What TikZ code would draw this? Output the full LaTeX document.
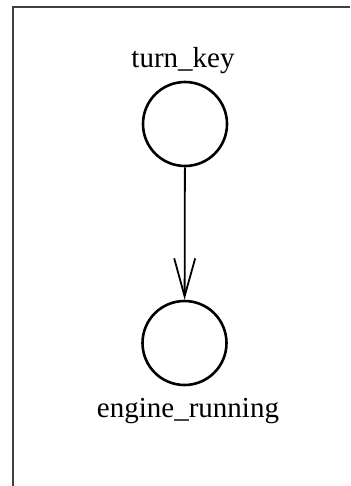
\documentclass[tikz,border=0pt]{standalone}
\usepackage{fontspec}
\setmainfont{Liberation Serif}
\usetikzlibrary{arrows.meta}
\begin{document}
\begin{tikzpicture}[x=1pt,y=-1pt,
  state/.style={circle,draw,line width=2.6pt,minimum size=84pt,inner sep=0pt},
  lbl/.style={font=\fontsize{29}{34}\selectfont,inner sep=0pt,anchor=base},
  frameline/.style={line width=2pt,draw=black!75},
  trans/.style={line width=1.8pt,-{Straight Barb[length=38pt,width=21pt,line width=1.8pt]}}]
\useasboundingbox (0,0) rectangle (350,486);
\fill[white] (0,0) rectangle (350,486);
\coordinate (tl) at (13,7.5);
\coordinate (tr) at (350,7.5);
\coordinate (bl) at (13,486);
\draw[frameline] (tr) -- (tl) -- (bl);
\node[state] (a) at (185,124) {};
\node[state] (b) at (184.5,343) {};
\node[lbl] (la) at (183,68) {turn\_key};
\node[lbl] (lb) at (188,417) {engine\_running};
\draw[trans] (a) -- (b);
\end{tikzpicture}
\end{document}
